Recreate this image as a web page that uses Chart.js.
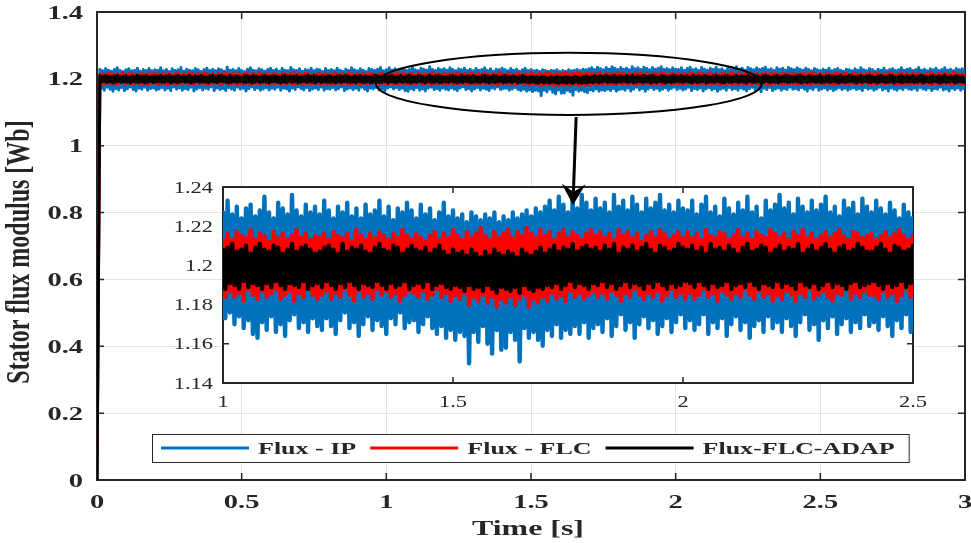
<!DOCTYPE html>
<html lang="en">
<head>
    <meta charset="UTF-8">
    <title>Stator flux modulus</title>
    <script src="https://cdn.jsdelivr.net/npm/chart.js"></script>
    <style>
        html, body { margin: 0; padding: 0; background: #fff; }
        #wrap { position: relative; width: 971px; height: 543px; overflow: hidden; }
        #wrap canvas { position: absolute; }
        #mainChart { left: 0; top: 0; }
        #zoomChart { left: 150px; top: 170px; }
        #notes { left: 0; top: 0; pointer-events: none; }
    </style>
</head>
<body>
<div id="wrap">
    <canvas id="mainChart" width="971" height="543"></canvas>
    <canvas id="zoomChart" width="790" height="245"></canvas>
    <canvas id="notes" width="971" height="543"></canvas>
</div>

<script>
    // flux samples in mWb, one upper and one lower peak every 10 ms (t = 0.01 ... 3.00 s)
    const sampleStep = 0.01;
    const fluxAtStart = 0;

    const ipUpper = [
        1229,1224,1231,1226,1223,1228,1233,1225,1222,1227,1230,1224,1226,1232,1223,1228,1225,1231,1224,1227,
        1226,1233,1224,1228,1222,1230,1225,1227,1234,1223,1229,1226,1224,1231,1227,1222,1228,1232,1225,1229,
        1224,1230,1227,1223,1235,1226,1228,1224,1231,1225,1222,1229,1233,1226,1224,1230,1227,1223,1228,1232,
        1225,1229,1223,1231,1226,1224,1234,1227,1225,1230,1223,1228,1226,1232,1224,1229,1227,1222,1231,1225,
        1228,1224,1232,1226,1223,1229,1225,1233,1227,1224,1230,1226,1222,1231,1228,1225,1229,1234,1224,1227,
        1233,1226,1230,1224,1229,1231,1225,1228,1235,1227,1224,1232,1229,1226,1236,1228,1225,1231,1227,1230,
        1226,1233,1228,1224,1230,1227,1232,1225,1229,1224,1231,1226,1228,1233,1225,1230,1223,1229,1227,1232,
        1228,1224,1231,1226,1229,1223,1227,1232,1225,1228,1224,1226,1222,1227,1225,1223,1226,1224,1227,1222,
        1225,1223,1227,1224,1226,1228,1225,1229,1227,1230,1233,1228,1235,1231,1227,1234,1229,1236,1232,1228,
        1234,1229,1232,1227,1236,1230,1233,1228,1235,1231,1227,1234,1229,1232,1236,1228,1231,1227,1233,1229,
        1228,1233,1226,1231,1235,1227,1230,1225,1234,1229,1226,1232,1228,1235,1227,1230,1224,1233,1228,1231,
        1236,1229,1232,1226,1234,1230,1227,1233,1228,1231,1235,1227,1230,1225,1233,1229,1232,1226,1234,1230,
        1227,1233,1229,1226,1232,1228,1224,1231,1227,1225,1229,1226,1232,1224,1228,1231,1226,1223,1229,1227,
        1224,1230,1226,1233,1227,1225,1231,1228,1223,1229,1226,1232,1224,1228,1230,1225,1227,1233,1226,1229,
        1231,1225,1228,1234,1226,1229,1224,1230,1227,1232,1225,1228,1233,1226,1229,1224,1231,1227,1230,1232
    ];
    const ipLower = [
        1172,1166,1175,1169,1163,1171,1167,1174,1165,1170,1176,1168,1164,1172,1169,1175,1166,1171,1173,1167,
        1170,1174,1167,1172,1165,1176,1169,1173,1166,1171,1168,1175,1164,1170,1174,1167,1172,1169,1176,1165,
        1173,1168,1171,1165,1174,1170,1166,1175,1169,1172,1164,1171,1176,1168,1173,1166,1170,1174,1167,1172,
        1169,1175,1166,1172,1170,1164,1173,1168,1176,1171,1167,1174,1165,1170,1173,1168,1175,1166,1171,1169,
        1174,1167,1171,1176,1165,1170,1173,1168,1172,1166,1175,1169,1164,1172,1170,1174,1167,1171,1165,1173,
        1176,1170,1174,1168,1172,1165,1163,1171,1167,1174,1166,1170,1164,1172,1175,1168,1171,1166,1173,1169,
        1167,1173,1169,1165,1172,1176,1168,1171,1164,1170,1174,1167,1172,1169,1165,1173,1170,1176,1168,1171,
        1172,1166,1170,1174,1168,1165,1169,1163,1167,1162,1166,1164,1150,1166,1161,1169,1160,1155,1167,1157,
        1158,1166,1162,1151,1168,1163,1166,1162,1159,1167,1164,1170,1163,1167,1165,1169,1165,1171,1163,1168,
        1170,1166,1173,1164,1169,1175,1167,1171,1163,1170,1174,1168,1172,1165,1169,1173,1166,1171,1175,1168,
        1172,1167,1170,1175,1165,1171,1168,1173,1164,1170,1174,1167,1171,1163,1169,1172,1166,1174,1168,1171,
        1166,1173,1169,1164,1171,1175,1167,1170,1162,1172,1168,1174,1165,1170,1173,1166,1171,1168,1175,1169,
        1171,1167,1174,1169,1164,1172,1168,1175,1166,1170,1173,1167,1171,1165,1169,1174,1168,1172,1166,1170,
        1173,1168,1171,1165,1174,1169,1172,1166,1170,1175,1167,1171,1164,1173,1169,1166,1172,1168,1174,1170,
        1168,1172,1166,1174,1170,1167,1173,1165,1171,1169,1175,1167,1170,1164,1172,1168,1173,1166,1171,1169
    ];
    const flcUpper = [
        1214,1216,1213,1217,1215,1212,1216,1214,1218,1213,1215,1217,1214,1212,1216,1215,1213,1218,1214,1216,
        1215,1213,1217,1214,1216,1212,1215,1218,1213,1216,1214,1217,1215,1213,1216,1214,1218,1215,1212,1216,
        1213,1216,1214,1218,1215,1213,1217,1214,1216,1212,1215,1217,1214,1216,1213,1218,1215,1214,1216,1213,
        1216,1214,1212,1217,1215,1213,1216,1218,1214,1215,1213,1217,1216,1214,1212,1215,1217,1213,1216,1214,
        1214,1217,1215,1213,1216,1214,1218,1215,1212,1216,1214,1217,1213,1215,1216,1214,1212,1217,1215,1213,
        1216,1213,1217,1215,1214,1218,1213,1216,1215,1212,1217,1214,1216,1213,1215,1218,1214,1216,1213,1215,
        1214,1216,1213,1217,1215,1214,1216,1212,1218,1215,1213,1216,1214,1217,1215,1213,1216,1214,1218,1215,
        1213,1216,1214,1212,1215,1217,1213,1216,1214,1218,1215,1213,1217,1214,1216,1219,1215,1213,1217,1214,
        1216,1218,1214,1217,1215,1219,1216,1214,1218,1215,1217,1213,1216,1218,1214,1217,1215,1213,1216,1218,
        1215,1217,1214,1216,1213,1218,1215,1217,1214,1216,1212,1215,1217,1214,1218,1216,1213,1215,1217,1214,
        1217,1214,1216,1213,1218,1215,1214,1217,1216,1213,1215,1218,1214,1216,1213,1217,1215,1214,1218,1216,
        1214,1216,1213,1217,1215,1218,1214,1216,1213,1215,1217,1214,1216,1218,1215,1213,1217,1216,1214,1215,
        1216,1213,1215,1217,1214,1216,1218,1215,1213,1216,1214,1217,1215,1213,1216,1218,1214,1215,1217,1213,
        1215,1217,1214,1216,1213,1215,1218,1214,1216,1217,1213,1215,1214,1218,1216,1213,1215,1217,1214,1216,
        1213,1216,1215,1217,1214,1212,1216,1218,1215,1213,1217,1214,1216,1215,1213,1218,1216,1214,1215,1217
    ];
    const flcLower = [
        1186,1183,1188,1185,1187,1182,1186,1189,1184,1187,1185,1183,1188,1186,1184,1187,1182,1186,1188,1185,
        1184,1187,1185,1182,1188,1186,1183,1187,1185,1189,1184,1186,1183,1188,1185,1187,1184,1182,1186,1188,
        1187,1184,1186,1188,1183,1185,1187,1182,1186,1184,1188,1185,1183,1187,1186,1184,1189,1185,1183,1187,
        1185,1188,1183,1186,1184,1187,1185,1182,1188,1186,1184,1187,1183,1185,1188,1186,1184,1187,1182,1186,
        1183,1186,1188,1184,1187,1185,1182,1186,1188,1183,1185,1187,1184,1186,1189,1185,1183,1187,1185,1184,
        1187,1184,1186,1182,1188,1185,1183,1187,1184,1186,1188,1183,1185,1187,1182,1186,1184,1188,1185,1183,
        1185,1187,1183,1186,1184,1188,1185,1182,1187,1184,1186,1183,1188,1185,1187,1184,1186,1182,1185,1187,
        1186,1184,1187,1183,1185,1188,1184,1186,1182,1185,1183,1186,1180,1184,1182,1185,1181,1184,1179,1183,
        1181,1184,1180,1183,1185,1179,1183,1181,1184,1182,1186,1183,1185,1182,1187,1184,1186,1183,1185,1187,
        1184,1186,1183,1187,1185,1182,1186,1184,1188,1185,1183,1186,1184,1187,1182,1185,1188,1184,1186,1183,
        1186,1183,1185,1188,1184,1186,1182,1187,1185,1183,1186,1184,1188,1185,1183,1187,1184,1186,1182,1185,
        1183,1187,1185,1182,1186,1184,1188,1183,1185,1187,1184,1182,1186,1185,1188,1183,1186,1184,1187,1185,
        1185,1183,1187,1184,1186,1182,1185,1188,1184,1186,1183,1187,1185,1182,1186,1184,1188,1185,1183,1186,
        1187,1184,1186,1183,1188,1185,1182,1186,1184,1187,1185,1183,1186,1188,1184,1185,1182,1187,1184,1186,
        1184,1186,1183,1187,1185,1188,1184,1182,1186,1185,1183,1187,1184,1186,1182,1185,1187,1183,1186,1184
    ];
    const adapUpper = [
        1209,1207,1210,1208,1206,1209,1211,1207,1208,1210,1206,1209,1208,1211,1207,1209,1210,1206,1208,1209,
        1208,1210,1207,1209,1211,1206,1208,1210,1207,1209,1208,1211,1206,1209,1207,1210,1208,1206,1209,1211,
        1207,1209,1211,1208,1206,1210,1207,1209,1208,1206,1210,1209,1207,1211,1208,1206,1209,1210,1207,1208,
        1210,1208,1206,1209,1211,1207,1209,1208,1210,1206,1208,1209,1211,1207,1210,1208,1206,1209,1207,1210,
        1208,1206,1209,1210,1207,1211,1208,1206,1209,1208,1210,1207,1209,1206,1208,1211,1209,1207,1210,1208,
        1209,1211,1207,1208,1210,1206,1209,1211,1208,1207,1210,1209,1206,1208,1211,1207,1209,1210,1208,1206,
        1207,1209,1210,1208,1206,1211,1207,1209,1208,1210,1207,1206,1209,1211,1208,1207,1210,1209,1206,1208,
        1210,1208,1207,1209,1206,1208,1210,1207,1205,1208,1206,1207,1205,1208,1206,1204,1207,1205,1208,1206,
        1205,1207,1206,1204,1208,1206,1205,1207,1209,1206,1208,1210,1207,1209,1208,1211,1207,1209,1210,1208,
        1209,1207,1210,1208,1211,1206,1209,1208,1210,1207,1209,1211,1208,1206,1210,1209,1207,1208,1211,1209,
        1208,1210,1207,1209,1206,1211,1208,1209,1207,1210,1208,1206,1209,1211,1207,1208,1210,1209,1206,1208,
        1210,1207,1209,1208,1211,1206,1208,1210,1207,1209,1211,1208,1206,1209,1210,1207,1208,1211,1209,1207,
        1207,1209,1211,1208,1206,1210,1209,1207,1208,1211,1206,1209,1210,1208,1207,1209,1211,1206,1208,1210,
        1209,1206,1208,1210,1207,1209,1211,1208,1206,1209,1210,1207,1208,1211,1209,1206,1208,1210,1207,1209,
        1208,1210,1207,1209,1211,1208,1206,1209,1210,1207,1209,1208,1211,1206,1209,1207,1210,1208,1209,1207
    ];
    const adapLower = [
        1190,1192,1189,1191,1188,1190,1192,1189,1191,1190,1188,1192,1190,1189,1191,1188,1190,1192,1189,1191,
        1191,1189,1190,1192,1188,1191,1189,1190,1192,1189,1191,1188,1190,1192,1189,1191,1190,1188,1192,1190,
        1189,1191,1192,1190,1188,1190,1191,1189,1192,1190,1189,1191,1188,1190,1192,1189,1191,1190,1188,1191,
        1192,1190,1188,1191,1189,1192,1190,1191,1188,1190,1192,1189,1191,1190,1188,1192,1189,1191,1190,1189,
        1190,1188,1191,1189,1192,1190,1189,1191,1188,1192,1190,1189,1191,1188,1190,1192,1189,1190,1191,1188,
        1191,1190,1188,1192,1189,1191,1190,1188,1191,1189,1192,1190,1188,1191,1190,1189,1192,1188,1190,1191,
        1189,1192,1190,1188,1191,1189,1192,1190,1188,1191,1190,1189,1192,1190,1188,1191,1189,1190,1192,1188,
        1190,1191,1189,1192,1188,1190,1191,1189,1188,1190,1189,1187,1190,1188,1189,1187,1190,1188,1186,1189,
        1188,1187,1189,1186,1190,1188,1187,1189,1188,1190,1189,1191,1188,1190,1192,1189,1191,1190,1188,1191,
        1190,1192,1189,1191,1188,1190,1192,1189,1191,1190,1188,1191,1189,1192,1190,1188,1191,1189,1190,1192,
        1191,1189,1192,1190,1188,1191,1189,1190,1192,1188,1190,1191,1189,1192,1190,1188,1191,1190,1189,1192,
        1189,1191,1190,1188,1192,1190,1189,1191,1188,1190,1192,1189,1191,1190,1188,1191,1192,1189,1190,1191,
        1192,1190,1188,1191,1189,1190,1192,1189,1191,1188,1190,1191,1189,1192,1190,1188,1191,1189,1190,1192,
        1190,1188,1191,1189,1192,1190,1189,1191,1188,1190,1192,1189,1190,1191,1188,1192,1190,1189,1191,1190,
        1191,1189,1190,1192,1188,1191,1190,1189,1192,1190,1188,1191,1189,1190,1192,1188,1190,1191,1189,1190
    ];

    const seriesNames = ['Flux - IP', 'Flux - FLC', 'Flux-FLC-ADAP'];
    const seriesColors = ['#0072BD', '#FF0000', '#000000'];

    const mainXTicks = [0, 0.5, 1, 1.5, 2, 2.5, 3];
    const mainXLabels = ['0', '0.5', '1', '1.5', '2', '2.5', '3'];
    const mainYTicks = [0, 0.2, 0.4, 0.6, 0.8, 1, 1.2, 1.4];
    const mainYLabels = ['0', '0.2', '0.4', '0.6', '0.8', '1', '1.2', '1.4'];

    const zoomXTicks = [1, 1.5, 2, 2.5];
    const zoomXLabels = ['1', '1.5', '2', '2.5'];
    const zoomYTicks = [1.14, 1.16, 1.18, 1.2, 1.22, 1.24];
    const zoomYLabels = ['1.14', '1.16', '1.18', '1.2', '1.22', '1.24'];

    // ellipse around the steady-state band and arrow into the zoom, in main axes units
    const ringCenter = { x: 1.631, y: 1.185 };
    const ringRadius = { x: 0.667, y: 0.093 };
    const arrowFrom = { x: 1.656, y: 1.086 };
    const arrowTo = { x: 1.645, y: 0.823 };

    const axisColor = '#262626';
    const gridColor = '#e3e3e3';
    const serif = '"Liberation Serif", "Times New Roman", serif';

    function fluxTrace(upper, lower) {
        const pts = [{ x: 0, y: fluxAtStart }];
        for (let i = 0; i < upper.length; i++) {
            const t = (i + 1) * sampleStep;
            pts.push({ x: t, y: upper[i] / 1000 });
            pts.push({ x: t + sampleStep / 2, y: lower[i] / 1000 });
        }
        return pts;
    }

    const traces = [
        fluxTrace(ipUpper, ipLower),
        fluxTrace(flcUpper, flcLower),
        fluxTrace(adapUpper, adapLower)
    ];

    // black on top, blue at the bottom
    const makeDatasets = (width) => traces.map((data, i) => ({
        label: seriesNames[i],
        data: data,
        borderColor: seriesColors[i],
        borderWidth: width,
        borderJoinStyle: 'round',
        pointRadius: 0,
        tension: 0,
        order: 2 - i
    }));

    // text stretched horizontally like the exported figure
    function wideText(ctx, text, x, y, font, sx, align) {
        ctx.save();
        ctx.font = font;
        ctx.fillStyle = axisColor;
        ctx.textAlign = align;
        ctx.textBaseline = 'alphabetic';
        ctx.translate(x, y);
        ctx.scale(sx, 1);
        ctx.fillText(text, 0, 0);
        ctx.restore();
    }

    function drawBox(chart, xTicks, yTicks, len) {
        const { ctx, chartArea: a, scales: { x, y } } = chart;
        ctx.save();
        ctx.strokeStyle = axisColor;
        ctx.lineWidth = 1.5;
        ctx.beginPath();
        xTicks.forEach(v => {
            const px = x.getPixelForValue(v);
            ctx.moveTo(px, a.bottom); ctx.lineTo(px, a.bottom - len);
            ctx.moveTo(px, a.top); ctx.lineTo(px, a.top + len);
        });
        yTicks.forEach(v => {
            const py = y.getPixelForValue(v);
            ctx.moveTo(a.left, py); ctx.lineTo(a.left + len, py);
            ctx.moveTo(a.right, py); ctx.lineTo(a.right - len, py);
        });
        ctx.stroke();
        ctx.lineWidth = 2;
        ctx.strokeRect(a.left, a.top, a.width, a.height);
        ctx.restore();
    }

    const mainDecor = {
        id: 'mainDecor',
        beforeDatasetsDraw(chart) {
            drawBox(chart, mainXTicks, mainYTicks, 7);
        },
        afterDatasetsDraw(chart) {
            const { ctx, chartArea: a, scales: { x, y } } = chart;
            const tickFont = 'bold 19px ' + serif;
            mainYTicks.forEach((v, i) => wideText(ctx, mainYLabels[i], a.left - 14, y.getPixelForValue(v) + 6.5, tickFont, 1.5, 'right'));
            mainXTicks.forEach((v, i) => wideText(ctx, mainXLabels[i], x.getPixelForValue(v), a.bottom + 28, tickFont, 1.5, 'center'));

            wideText(ctx, 'Time [s]', (a.left + a.right) / 2 - 3, a.bottom + 55, 'bold 22px ' + serif, 1.45, 'center');

            // y title, rotated and stretched across its height
            ctx.save();
            ctx.font = 'bold 24px ' + serif;
            ctx.fillStyle = axisColor;
            ctx.textAlign = 'center';
            ctx.textBaseline = 'middle';
            ctx.translate(20, (a.top + a.bottom) / 2 + 6);
            ctx.rotate(-Math.PI / 2);
            ctx.scale(1, 1.4);
            ctx.fillText('Stator flux modulus [Wb]', 0, 0);
            ctx.restore();

            // legend
            const legendFont = 'bold 17px ' + serif;
            const sx = 1.53, lineLen = 88;
            ctx.save();
            ctx.font = legendFont;
            const widths = seriesNames.map(n => ctx.measureText(n).width * sx);
            ctx.restore();
            const left = a.left + 55, top = a.bottom - 46, h = 28;
            let w = 9;
            widths.forEach(tw => { w += lineLen + 9 + tw + 14; });
            ctx.save();
            ctx.fillStyle = '#fff';
            ctx.fillRect(left, top, w, h);
            ctx.strokeStyle = axisColor;
            ctx.lineWidth = 1;
            ctx.strokeRect(left + 0.5, top + 0.5, w, h);
            let cx = left + 9;
            seriesNames.forEach((n, i) => {
                ctx.strokeStyle = seriesColors[i];
                ctx.lineWidth = 3;
                ctx.beginPath();
                ctx.moveTo(cx, top + 14);
                ctx.lineTo(cx + lineLen, top + 14);
                ctx.stroke();
                cx += lineLen + 9;
                wideText(ctx, n, cx, top + 20, legendFont, sx, 'left');
                cx += widths[i] + 14;
            });
            ctx.restore();
        },
        afterDraw(chart) {
            const { x, y } = chart.scales;
            const ctx = document.getElementById('notes').getContext('2d');
            ctx.clearRect(0, 0, 971, 543);
            ctx.save();
            ctx.strokeStyle = '#000';
            ctx.fillStyle = '#000';
            ctx.lineWidth = 2;
            const cx = x.getPixelForValue(ringCenter.x), cy = y.getPixelForValue(ringCenter.y);
            const rx = x.getPixelForValue(ringCenter.x + ringRadius.x) - cx;
            const ry = cy - y.getPixelForValue(ringCenter.y + ringRadius.y);
            ctx.beginPath();
            ctx.ellipse(cx, cy, rx, ry, 0, 0, Math.PI * 2);
            ctx.stroke();

            const x0 = x.getPixelForValue(arrowFrom.x), y0 = y.getPixelForValue(arrowFrom.y);
            const x1 = x.getPixelForValue(arrowTo.x), y1 = y.getPixelForValue(arrowTo.y);
            const ang = Math.atan2(y1 - y0, x1 - x0);
            const ux = Math.cos(ang), uy = Math.sin(ang);
            const headLen = 21, headHalf = 12, notch = 13;
            ctx.lineWidth = 3;
            ctx.beginPath();
            ctx.moveTo(x0, y0);
            ctx.lineTo(x1 - ux * notch, y1 - uy * notch);
            ctx.stroke();
            ctx.beginPath();
            ctx.moveTo(x1, y1);
            ctx.lineTo(x1 - ux * headLen - uy * headHalf, y1 - uy * headLen + ux * headHalf);
            ctx.lineTo(x1 - ux * notch, y1 - uy * notch);
            ctx.lineTo(x1 - ux * headLen + uy * headHalf, y1 - uy * headLen - ux * headHalf);
            ctx.closePath();
            ctx.fill();
            ctx.restore();
        }
    };

    const zoomDecor = {
        id: 'zoomDecor',
        beforeDraw(chart) {
            const { ctx, chartArea: a } = chart;
            ctx.save();
            ctx.fillStyle = '#fff';
            ctx.fillRect(a.left, a.top, a.width, a.height);
            ctx.restore();
        },
        beforeDatasetsDraw(chart) {
            drawBox(chart, zoomXTicks, zoomYTicks, 6);
        },
        afterDatasetsDraw(chart) {
            const { ctx, chartArea: a, scales: { x, y } } = chart;
            const tickFont = '16px ' + serif;
            zoomYTicks.forEach((v, i) => wideText(ctx, zoomYLabels[i], a.left - 10, y.getPixelForValue(v) + 5.5, tickFont, 1.4, 'right'));
            zoomXTicks.forEach((v, i) => wideText(ctx, zoomXLabels[i], x.getPixelForValue(v), a.bottom + 24, tickFont, 1.4, 'center'));
        }
    };

    const fixedTicks = (values) => (scale) => { scale.ticks = values.map(v => ({ value: v })); };

    new Chart(document.getElementById('zoomChart'), {
        type: 'line',
        data: { datasets: makeDatasets(4.4) },
        options: {
            responsive: false,
            animation: false,
            parsing: false,
            events: [],
            layout: { padding: { left: 0, top: 17, right: 27, bottom: 0 } },
            scales: {
                x: {
                    type: 'linear', min: 1, max: 2.5,
                    afterBuildTicks: fixedTicks(zoomXTicks),
                    afterFit: s => { s.height = 32; },
                    ticks: { display: false },
                    grid: { display: false },
                    border: { display: false }
                },
                y: {
                    min: 1.14, max: 1.24,
                    afterBuildTicks: fixedTicks(zoomYTicks),
                    afterFit: s => { s.width = 73; },
                    ticks: { display: false },
                    grid: { display: false },
                    border: { display: false }
                }
            },
            plugins: { legend: { display: false }, tooltip: { enabled: false } }
        },
        plugins: [zoomDecor]
    });

    new Chart(document.getElementById('mainChart'), {
        type: 'line',
        data: { datasets: makeDatasets(3) },
        options: {
            responsive: false,
            animation: false,
            parsing: false,
            events: [],
            layout: { padding: { left: 0, top: 12, right: 6, bottom: 0 } },
            scales: {
                x: {
                    type: 'linear', min: 0, max: 3,
                    afterBuildTicks: fixedTicks(mainXTicks),
                    afterFit: s => { s.height = 63; },
                    ticks: { display: false },
                    grid: { color: gridColor, lineWidth: 1, drawTicks: false },
                    border: { display: false }
                },
                y: {
                    min: 0, max: 1.4,
                    afterBuildTicks: fixedTicks(mainYTicks),
                    afterFit: s => { s.width = 97; },
                    ticks: { display: false },
                    grid: { color: gridColor, lineWidth: 1, drawTicks: false },
                    border: { display: false }
                }
            },
            plugins: { legend: { display: false }, tooltip: { enabled: false } }
        },
        plugins: [mainDecor]
    });
</script>
</body>
</html>
